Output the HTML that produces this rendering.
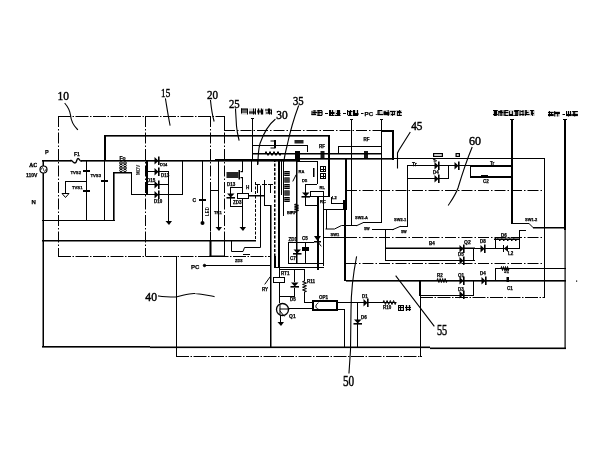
<!DOCTYPE html>
<html><head><meta charset="utf-8"><style>
html,body{margin:0;padding:0;background:#fff;width:600px;height:450px;overflow:hidden}
svg{display:block}
.ln{fill:none;stroke:#000;stroke-linecap:square}
.dd{stroke:#000;stroke-dasharray:11 2 1.5 2;fill:none}
.d2{stroke:#000;stroke-dasharray:13 1.5 1.5 1.5;fill:none}
.d3{stroke:#000;stroke-dasharray:3 1.5;fill:none}
text{fill:#000}
svg{filter:grayscale(1)}
.num{stroke:#000;stroke-width:0.45}
</style></head><body>
<svg width="600" height="450" viewBox="0 0 600 450" fill="#000">
<text class="num" x="57.5" y="100.3" font-size="12.8" font-family="Liberation Serif" textLength="11.5" lengthAdjust="spacingAndGlyphs">10</text>
<text class="num" x="161.1" y="96.5" font-size="12.8" font-family="Liberation Serif" textLength="9.099999999999994" lengthAdjust="spacingAndGlyphs">15</text>
<text class="num" x="206.9" y="98.6" font-size="13" font-family="Liberation Serif" textLength="11.099999999999994" lengthAdjust="spacingAndGlyphs">20</text>
<text class="num" x="229" y="107.5" font-size="12.8" font-family="Liberation Serif" textLength="10.699999999999989" lengthAdjust="spacingAndGlyphs">25</text>
<text class="num" x="276.3" y="119.1" font-size="12.2" font-family="Liberation Serif" textLength="11.399999999999977" lengthAdjust="spacingAndGlyphs">30</text>
<text class="num" x="293" y="104.5" font-size="12.2" font-family="Liberation Serif" textLength="10.699999999999989" lengthAdjust="spacingAndGlyphs">35</text>
<text class="num" x="411.2" y="129.8" font-size="13.5" font-family="Liberation Serif" textLength="11.300000000000011" lengthAdjust="spacingAndGlyphs">45</text>
<text class="num" x="469" y="144.8" font-size="12.6" font-family="Liberation Serif" textLength="12" lengthAdjust="spacingAndGlyphs">60</text>
<text class="num" x="145.3" y="300.5" font-size="12.8" font-family="Liberation Serif" textLength="11.699999999999989" lengthAdjust="spacingAndGlyphs">40</text>
<text class="num" x="436.9" y="334.5" font-size="14.5" font-family="Liberation Serif" textLength="10.300000000000011" lengthAdjust="spacingAndGlyphs">55</text>
<text class="num" x="343" y="385.6" font-size="14.5" font-family="Liberation Serif" textLength="11.199999999999989" lengthAdjust="spacingAndGlyphs">50</text>
<path class="ln" d="M65,103.5 C69,108 70,112 70.5,115 C71,121 73,125 77.5,129.5" stroke-width="1.1"/>
<path class="ln" d="M165.5,99 C167,108 168,115 170,125" stroke-width="1.1"/>
<path class="ln" d="M210.5,100.5 C211.5,110 212.5,116 214,121" stroke-width="1.1"/>
<path class="ln" d="M235.5,109 L236.5,126 C237,132 238,136 239,140" stroke-width="1.1"/>
<path class="ln" d="M275,119.5 C268,125 263,135 260,143.5 C258.5,149 258,155 258,164" stroke-width="1.1"/>
<path class="ln" d="M298.5,106 C294,118 290,132 287,146 C285.5,152 284.5,156 284,161" stroke-width="1.1"/>
<path class="ln" d="M410,132.5 L399,150 L397.5,153 L397.5,168" stroke-width="1.1"/>
<path class="ln" d="M472,147.5 C466,162 461,178 458,188 C455,196 451,201 448.5,205" stroke-width="1.1"/>
<path class="ln" d="M158.5,296 C165,297 170,297 176,297 C185,295 190,293 195,293.5 C203,294 208,295.5 214,296.5" stroke-width="1.1"/>
<path class="ln" d="M396,276 L434,326" stroke-width="1.1"/>
<path class="ln" d="M356.5,257 C353,275 351,290 351,310 L350.5,350 L349,373" stroke-width="1.1"/>
<g transform="translate(241,108.5)"><rect x="0" y="0" width="7" height="6" opacity="0.18"/><rect x="0" y="0" width="6" height="1"/><rect x="0" y="1" width="7" height="1"/><rect x="1" y="3" width="6" height="1"/><rect x="0" y="0" width="1" height="5"/><rect x="6" y="0" width="1" height="6"/></g>
<g transform="translate(249,108.5)"><rect x="0" y="0" width="7" height="6" opacity="0.18"/><rect x="0" y="3" width="6" height="1"/><rect x="0" y="4" width="7" height="1"/><rect x="4" y="0" width="1" height="6"/><rect x="6" y="0" width="1" height="6"/></g>
<g transform="translate(257,108.5)"><rect x="0" y="0" width="7" height="6" opacity="0.18"/><rect x="0" y="2" width="6" height="1"/><rect x="0" y="3" width="6" height="1"/><rect x="1" y="0" width="1" height="6"/><rect x="4" y="0" width="1" height="6"/><rect x="5" y="1" width="1" height="5"/></g>
<g transform="translate(265,108.5)"><rect x="0" y="0" width="7" height="6" opacity="0.18"/><rect x="0" y="1" width="6" height="1"/><rect x="1" y="4" width="6" height="1"/><rect x="3" y="0" width="1" height="5"/><rect x="4" y="0" width="1" height="6"/><rect x="6" y="1" width="1" height="5"/></g>
<g transform="translate(311.5,110)"><rect x="0" y="0" width="5.5" height="6" opacity="0.18"/><rect x="1" y="2" width="4.5" height="1"/><rect x="0" y="4" width="4.5" height="1"/><rect x="0" y="1" width="1" height="4"/><rect x="2" y="0" width="1" height="5"/><rect x="3" y="0" width="1" height="5"/></g>
<g transform="translate(317.5,110)"><rect x="0" y="0" width="5.5" height="6" opacity="0.18"/><rect x="0" y="0" width="4.5" height="1"/><rect x="0" y="2" width="4.5" height="1"/><rect x="0" y="5" width="4.5" height="1"/><rect x="0" y="0" width="1" height="6"/><rect x="1" y="0" width="1" height="5"/><rect x="4" y="1" width="1" height="4"/></g>
<rect x="325" y="113" width="3" height="1"/>
<g transform="translate(329.0,110)"><rect x="0" y="0" width="5.5" height="6" opacity="0.18"/><rect x="0" y="2" width="5.5" height="1"/><rect x="0" y="3" width="5.5" height="1"/><rect x="1" y="5" width="4.5" height="1"/><rect x="0" y="0" width="1" height="6"/><rect x="1" y="0" width="1" height="5"/><rect x="3" y="0" width="1" height="6"/></g>
<g transform="translate(335.0,110)"><rect x="0" y="0" width="5.5" height="6" opacity="0.18"/><rect x="1" y="3" width="4.5" height="1"/><rect x="0" y="5" width="5.5" height="1"/><rect x="2" y="0" width="1" height="6"/><rect x="3" y="0" width="1" height="6"/><rect x="4" y="0" width="1" height="6"/></g>
<rect x="343" y="113" width="3" height="1"/>
<g transform="translate(347.0,110)"><rect x="0" y="0" width="5.5" height="6" opacity="0.18"/><rect x="0" y="1" width="5.5" height="1"/><rect x="1" y="5" width="4.5" height="1"/><rect x="0" y="0" width="1" height="5"/><rect x="2" y="1" width="1" height="4"/><rect x="3" y="0" width="1" height="6"/></g>
<g transform="translate(353.0,110)"><rect x="0" y="0" width="5.5" height="6" opacity="0.18"/><rect x="0" y="3" width="5.5" height="1"/><rect x="0" y="4" width="5.5" height="1"/><rect x="0" y="5" width="4.5" height="1"/><rect x="0" y="0" width="1" height="5"/><rect x="1" y="0" width="1" height="6"/><rect x="4" y="0" width="1" height="6"/></g>
<rect x="361" y="113" width="2.5" height="1"/>
<text x="364.5" y="115.5" font-size="6.2" font-family="Liberation Sans" font-weight="bold" stroke="#000" stroke-width="0.25">PC</text>
<rect x="375.8" y="114" width="1.0" height="1"/>
<g transform="translate(377.5,110)"><rect x="0" y="0" width="5.7" height="6" opacity="0.18"/><rect x="0" y="0" width="4.7" height="1"/><rect x="0" y="4" width="5.7" height="1"/><rect x="0" y="1" width="1" height="4"/><rect x="1" y="0" width="1" height="5"/></g>
<g transform="translate(383.7,110)"><rect x="0" y="0" width="5.7" height="6" opacity="0.18"/><rect x="0" y="2" width="5.7" height="1"/><rect x="0" y="3" width="5.7" height="1"/><rect x="0" y="4" width="5.7" height="1"/><rect x="0" y="1" width="1" height="4"/><rect x="1" y="1" width="1" height="4"/><rect x="4" y="0" width="1" height="6"/></g>
<g transform="translate(389.9,110)"><rect x="0" y="0" width="5.7" height="6" opacity="0.18"/><rect x="0" y="1" width="5.7" height="1"/><rect x="1" y="4" width="3.7" height="1"/><rect x="2" y="1" width="1" height="5"/><rect x="4" y="1" width="1" height="4"/></g>
<g transform="translate(396.1,110)"><rect x="0" y="0" width="5.7" height="6" opacity="0.18"/><rect x="1" y="1" width="3.7" height="1"/><rect x="1" y="2" width="4.7" height="1"/><rect x="1" y="5" width="4.7" height="1"/><rect x="1" y="1" width="1" height="5"/><rect x="3" y="0" width="1" height="5"/></g>
<g transform="translate(493.0,110)"><rect x="0" y="0" width="4.8" height="6" opacity="0.18"/><rect x="0" y="0" width="4.8" height="1"/><rect x="0" y="4" width="4.8" height="1"/><rect x="1" y="5" width="2.8" height="1"/><rect x="1" y="0" width="1" height="6"/><rect x="2" y="0" width="1" height="6"/><rect x="3" y="0" width="1" height="5"/></g>
<g transform="translate(498.3,110)"><rect x="0" y="0" width="4.8" height="6" opacity="0.18"/><rect x="0" y="1" width="3.8" height="1"/><rect x="1" y="2" width="3.8" height="1"/><rect x="0" y="1" width="1" height="5"/><rect x="2" y="0" width="1" height="6"/><rect x="3" y="0" width="1" height="6"/></g>
<g transform="translate(503.6,110)"><rect x="0" y="0" width="4.8" height="6" opacity="0.18"/><rect x="1" y="0" width="3.8" height="1"/><rect x="0" y="2" width="4.8" height="1"/><rect x="1" y="5" width="3.8" height="1"/><rect x="0" y="0" width="1" height="6"/><rect x="1" y="1" width="1" height="4"/></g>
<g transform="translate(508.9,110)"><rect x="0" y="0" width="4.8" height="6" opacity="0.18"/><rect x="0" y="4" width="3.8" height="1"/><rect x="0" y="5" width="4.8" height="1"/><rect x="0" y="1" width="1" height="5"/><rect x="3" y="1" width="1" height="5"/></g>
<g transform="translate(514.2,110)"><rect x="0" y="0" width="4.8" height="6" opacity="0.18"/><rect x="0" y="0" width="4.8" height="1"/><rect x="0" y="1" width="3.8" height="1"/><rect x="0" y="5" width="3.8" height="1"/><rect x="1" y="0" width="1" height="6"/><rect x="2" y="1" width="1" height="4"/><rect x="3" y="0" width="1" height="5"/></g>
<g transform="translate(519.5,110)"><rect x="0" y="0" width="4.8" height="6" opacity="0.18"/><rect x="1" y="1" width="2.8" height="1"/><rect x="0" y="4" width="4.8" height="1"/><rect x="0" y="0" width="1" height="6"/><rect x="3" y="0" width="1" height="6"/></g>
<g transform="translate(524.8,110)"><rect x="0" y="0" width="4.8" height="6" opacity="0.18"/><rect x="1" y="2" width="2.8" height="1"/><rect x="0" y="4" width="4.8" height="1"/><rect x="0" y="0" width="1" height="6"/><rect x="1" y="0" width="1" height="5"/></g>
<g transform="translate(530.1,110)"><rect x="0" y="0" width="4.8" height="6" opacity="0.18"/><rect x="0" y="0" width="3.8" height="1"/><rect x="1" y="3" width="2.8" height="1"/><rect x="1" y="1" width="1" height="4"/><rect x="2" y="1" width="1" height="5"/></g>
<g transform="translate(548.0,111)"><rect x="0" y="0" width="5.7" height="5.5" opacity="0.18"/><rect x="0" y="1" width="5.7" height="1"/><rect x="0" y="3" width="5.7" height="1"/><rect x="0" y="4" width="5.7" height="1"/><rect x="1" y="0" width="1" height="5.5"/><rect x="3" y="1" width="1" height="3.5"/></g>
<g transform="translate(554.2,111)"><rect x="0" y="0" width="5.7" height="5.5" opacity="0.18"/><rect x="0" y="1" width="5.7" height="1"/><rect x="0" y="2" width="5.7" height="1"/><rect x="0" y="0" width="1" height="5.5"/><rect x="3" y="1" width="1" height="4.5"/></g>
<rect x="562.5" y="114" width="2.5" height="1"/>
<g transform="translate(566.0,111)"><rect x="0" y="0" width="5.7" height="5.5" opacity="0.18"/><rect x="0" y="3" width="5.7" height="1"/><rect x="0" y="4" width="5.7" height="1"/><rect x="0" y="0" width="1" height="4.5"/><rect x="2" y="0" width="1" height="5.5"/><rect x="4" y="0" width="1" height="4.5"/></g>
<g transform="translate(572.2,111)"><rect x="0" y="0" width="5.7" height="5.5" opacity="0.18"/><rect x="0" y="0" width="5.7" height="1"/><rect x="0" y="3" width="5.7" height="1"/><rect x="0" y="4" width="5.7" height="1"/><rect x="1" y="0" width="1" height="4.5"/><rect x="2" y="0" width="1" height="5.5"/></g>
<rect x="252" y="118" width="1" height="42"/>
<rect x="251" y="118" width="3" height="1"/>
<rect x="351" y="119" width="1" height="106"/>
<rect x="350" y="119" width="3" height="1"/>
<rect x="381" y="119" width="1" height="104"/>
<rect x="380" y="119" width="3" height="1"/>
<rect x="511" y="119" width="2" height="105"/>
<rect x="510" y="119" width="4" height="1"/>
<rect x="564" y="119" width="2" height="111"/>
<rect x="563" y="119" width="4" height="1"/>
<rect x="564.5" y="230" width="1.2" height="118"/>
<rect x="576" y="280.5" width="1.2" height="1.2"/>
<line class="d2" x1="58" y1="116.5" x2="225" y2="116.5" stroke-width="1"/>
<line class="dd" x1="58.5" y1="116" x2="58.5" y2="256" stroke-width="1"/>
<line class="dd" x1="145.5" y1="116" x2="145.5" y2="256" stroke-width="1"/>
<line class="dd" x1="210.5" y1="116" x2="210.5" y2="256" stroke-width="1"/>
<line class="dd" x1="224.5" y1="116" x2="224.5" y2="256" stroke-width="1"/>
<rect x="224" y="116" width="1" height="15"/>
<line class="dd" x1="224" y1="130.5" x2="382" y2="130.5" stroke-width="1"/>
<rect x="382" y="130" width="12" height="2"/>
<rect x="392" y="130" width="2" height="30"/>
<line class="d2" x1="58" y1="256.5" x2="271" y2="256.5" stroke-width="1"/>
<circle cx="43.5" cy="169.5" r="3.5" fill="none" stroke="#000" stroke-width="1.2"/>
<path class="ln" d="M41,169.5 C42,167 43,167 43.5,169.5 C44,172 45,172 46,169.5" stroke-width="0.8"/>
<text x="29.3" y="167.3" font-size="7" font-family="Liberation Serif" font-weight="bold" stroke="#000" stroke-width="0.4" textLength="8" lengthAdjust="spacingAndGlyphs">AC</text>
<text x="26" y="177" font-size="5" font-family="Liberation Sans" font-weight="bold" stroke="#000" stroke-width="0.25">110V</text>
<text x="45" y="154" font-size="5.5" font-family="Liberation Sans" font-weight="bold" stroke="#000" stroke-width="0.25">P</text>
<text x="31.5" y="204" font-size="6" font-family="Liberation Sans" font-weight="bold" stroke="#000" stroke-width="0.25">N</text>
<rect x="42.5" y="160" width="1.5" height="6"/>
<rect x="42.5" y="173" width="1.5" height="174"/>
<rect x="42" y="160" width="173" height="1.6"/>
<rect x="215" y="159" width="85" height="2.6"/>
<rect x="300" y="158" width="93" height="1.6"/>
<rect x="71" y="159" width="10" height="4" fill="#fff"/>
<path class="ln" d="M71,160.5 C72.5,160.5 73,163 75,163 C77,163 76.5,158.5 78,158.5 C79.5,158.5 79.5,161 81,161" stroke-width="1.4"/>
<text x="74" y="156" font-size="5" font-family="Liberation Sans" font-weight="bold" stroke="#000" stroke-width="0.25">F1</text>
<rect x="104" y="135" width="226" height="1.6"/>
<rect x="104" y="135" width="2" height="25"/>
<rect x="104" y="160" width="1" height="61"/>
<rect x="42" y="220" width="73" height="1"/>
<rect x="101.0" y="180" width="7" height="2"/>
<rect x="86" y="160" width="1" height="61"/>
<rect x="83.0" y="170" width="7" height="2"/>
<rect x="83.0" y="190" width="7" height="2"/>
<text x="70.5" y="174" font-size="4.2" font-family="Liberation Sans" font-weight="bold" stroke="#000" stroke-width="0.25">TVS2</text>
<text x="90.5" y="177" font-size="4.2" font-family="Liberation Sans" font-weight="bold" stroke="#000" stroke-width="0.25">TVS3</text>
<text x="72" y="189" font-size="4.2" font-family="Liberation Sans" font-weight="bold" stroke="#000" stroke-width="0.25">TVS1</text>
<rect x="65" y="181" width="22" height="1"/>
<rect x="65" y="181" width="1" height="12"/>
<path d="M62,193.5 L69,193.5 L65.5,197.5 Z" fill="none" stroke="#000" stroke-width="1"/>
<circle cx="121" cy="163.0" r="1.3" fill="none" stroke="#000" stroke-width="1"/>
<circle cx="125" cy="163.0" r="1.3" fill="none" stroke="#000" stroke-width="1"/>
<circle cx="121" cy="165.5" r="1.3" fill="none" stroke="#000" stroke-width="1"/>
<circle cx="125" cy="165.5" r="1.3" fill="none" stroke="#000" stroke-width="1"/>
<circle cx="121" cy="168.0" r="1.3" fill="none" stroke="#000" stroke-width="1"/>
<circle cx="125" cy="168.0" r="1.3" fill="none" stroke="#000" stroke-width="1"/>
<circle cx="121" cy="170.5" r="1.3" fill="none" stroke="#000" stroke-width="1"/>
<circle cx="125" cy="170.5" r="1.3" fill="none" stroke="#000" stroke-width="1"/>
<text x="119.5" y="159.5" font-size="5" font-family="Liberation Sans" font-weight="bold" stroke="#000" stroke-width="0.25">Fo</text>
<rect x="113" y="172" width="19" height="1.5"/>
<rect x="113" y="172" width="1.6" height="49"/>
<rect x="131" y="172" width="1" height="23"/>
<rect x="131" y="194" width="52" height="1"/>
<text transform="translate(140,175) rotate(-90)" font-size="4.5" font-family="Liberation Sans" font-weight="bold">MOV</text>
<rect x="146" y="160" width="2" height="35"/>
<rect x="146" y="171" width="23" height="1"/>
<rect x="146" y="184" width="23" height="1"/>
<rect x="168" y="171" width="1" height="51"/>
<path d="M165.5,221 L172.0,221 L169.0,225 Z" fill="#000"/>
<rect x="182" y="160" width="1" height="35"/>
<path d="M154.5,157.0 L154.5,164.5 L158.5,160.75 Z" fill="#000"/><rect x="158" y="156.5" width="1.6" height="8.5"/>
<path d="M154.5,168.0 L154.5,175.5 L158.5,171.75 Z" fill="#000"/><rect x="158" y="167.5" width="1.6" height="8.5"/>
<path d="M154.5,181.0 L154.5,188.5 L158.5,184.75 Z" fill="#000"/><rect x="158" y="180.5" width="1.6" height="8.5"/>
<path d="M154.5,191.0 L154.5,198.5 L158.5,194.75 Z" fill="#000"/><rect x="158" y="190.5" width="1.6" height="8.5"/>
<text x="161" y="177" font-size="4.5" font-family="Liberation Sans" font-weight="bold" stroke="#000" stroke-width="0.25">D13</text>
<text x="147" y="182" font-size="4.5" font-family="Liberation Sans" font-weight="bold" stroke="#000" stroke-width="0.25">D15</text>
<text x="154" y="202.5" font-size="4.5" font-family="Liberation Sans" font-weight="bold" stroke="#000" stroke-width="0.25">D10</text>
<text x="160" y="165.5" font-size="4" font-family="Liberation Sans" font-weight="bold" stroke="#000" stroke-width="0.25">D14</text>
<rect x="202" y="160" width="1" height="63"/>
<rect x="199.0" y="199" width="7" height="2"/>
<circle cx="202.5" cy="223" r="2"/>
<text x="192.5" y="201.5" font-size="5" font-family="Liberation Sans" font-weight="bold" stroke="#000" stroke-width="0.25">C</text>
<rect x="218" y="160" width="1" height="68"/>
<path d="M215.5,227 L222.0,227 L219.0,231 Z" fill="#000"/>
<rect x="210" y="191" width="1" height="40"/>
<rect x="210" y="190" width="8" height="1"/>
<text transform="translate(208.5,216) rotate(-90)" font-size="4.5" font-family="Liberation Sans" font-weight="bold">LED</text>
<text x="214" y="214" font-size="4.2" font-family="Liberation Sans" font-weight="bold" stroke="#000" stroke-width="0.25">TR1</text>
<rect x="242" y="159" width="1" height="13"/>
<rect x="242" y="177" width="1" height="16"/>
<rect x="240.5" y="171" width="2.5" height="1.2"/>
<rect x="240.5" y="177" width="2.5" height="1.2"/>
<rect x="238.5" y="170" width="1.5" height="9.5"/>
<rect x="226.5" y="172" width="12" height="6" fill="#000" opacity="0.85"/>
<text x="227" y="186" font-size="4.5" font-family="Liberation Sans" font-weight="bold" stroke="#000" stroke-width="0.25">D13</text>
<rect x="230" y="187" width="12" height="1"/>
<rect x="230" y="187" width="1" height="20"/>
<rect x="230" y="206" width="12" height="1"/>
<path d="M227.0,193.5 L234.5,193.5 L230.75,197.5 Z" fill="#000"/><rect x="226.5" y="197" width="8.5" height="1.6"/>
<rect x="237.5" y="193.5" width="11" height="5" fill="none" stroke="#000" stroke-width="1"/>
<rect x="242" y="199" width="1" height="29"/>
<path d="M239.5,227 L246.0,227 L243.0,231 Z" fill="#000"/>
<text x="233" y="204" font-size="4.5" font-family="Liberation Sans" font-weight="bold" stroke="#000" stroke-width="0.25">ZD3</text>
<rect x="249" y="195" width="16" height="1.5"/>
<rect x="251" y="159" width="1" height="33"/>
<text x="246" y="189" font-size="4.5" font-family="Liberation Sans" font-weight="bold" stroke="#000" stroke-width="0.25">H</text>
<line class="d3" x1="255.5" y1="182" x2="255.5" y2="240" stroke-width="1"/>
<rect x="42" y="240" width="214" height="1.5"/>
<path class="ln" d="M231.5,241 L231.5,251.5 L243,251.5 L244.5,247.5 L260.5,247.5 L260.5,186" stroke-width="1"/>
<rect x="243" y="254" width="7" height="1"/>
<rect x="209.5" y="240" width="2" height="17"/>
<rect x="209.5" y="255.5" width="15.5" height="1.5"/>
<rect x="224" y="240" width="1" height="17"/>
<text x="235" y="262" font-size="4" font-family="Liberation Sans" font-weight="bold" stroke="#000" stroke-width="0.25">ZD3</text>
<rect x="264" y="180" width="1" height="25"/>
<rect x="264" y="205" width="7" height="1"/>
<rect x="270" y="205" width="1.5" height="142"/>
<rect x="252" y="145" width="56" height="1"/>
<rect x="307" y="145" width="1" height="7"/>
<rect x="252" y="153" width="130" height="1.5"/>
<rect x="294.5" y="140" width="9" height="3.5" fill="#000" opacity="0.85"/>
<rect x="274" y="140" width="2" height="8"/>
<path class="ln" d="M271,141 L275,141 M275,148 L271,148" stroke-width="1"/>
<path d="M295,151 L300,151 L300,160 L295,160 Z" fill="#000"/>
<path class="ln" d="M265,153.5 L266.0,151.5 L268.0,155.5 L270.0,151.5 L272.0,155.5 L274.0,151.5 L276.0,155.5 L278.0,151.5 L280.0,155.5 L281,153.5" stroke-width="1"/>
<rect x="257" y="159" width="1" height="6"/>
<line class="d3" x1="274.75" y1="159" x2="274.75" y2="256" stroke-width="1.5"/>
<rect x="274" y="256" width="2" height="11"/>
<rect x="278" y="159" width="2" height="108"/>
<rect x="281" y="159" width="1" height="36"/>
<rect x="283" y="159" width="1" height="57"/>
<rect x="296" y="159" width="1.5" height="105"/>
<rect x="296" y="161" width="21" height="1"/>
<rect x="317" y="161" width="1" height="23"/>
<g transform="translate(284.5,171.0)"><rect width="5" height="1"/><rect y="4" width="5" height="1"/><rect width="1" height="5"/><rect x="4" width="1" height="5"/><rect x="2" width="1" height="5"/><rect y="2" width="5" height="1"/></g>
<g transform="translate(284.5,177.5)"><rect width="5" height="1"/><rect y="4" width="5" height="1"/><rect width="1" height="5"/><rect x="4" width="1" height="5"/><rect x="2" width="1" height="5"/><rect y="2" width="5" height="1"/></g>
<g transform="translate(284.5,184.0)"><rect width="5" height="1"/><rect y="4" width="5" height="1"/><rect width="1" height="5"/><rect x="4" width="1" height="5"/><rect x="2" width="1" height="5"/><rect y="2" width="5" height="1"/></g>
<g transform="translate(284.5,190.5)"><rect width="5" height="1"/><rect y="4" width="5" height="1"/><rect width="1" height="5"/><rect x="4" width="1" height="5"/><rect x="2" width="1" height="5"/><rect y="2" width="5" height="1"/></g>
<g transform="translate(284.5,197.0)"><rect width="5" height="1"/><rect y="4" width="5" height="1"/><rect width="1" height="5"/><rect x="4" width="1" height="5"/><rect x="2" width="1" height="5"/><rect y="2" width="5" height="1"/></g>
<g transform="translate(320,166)"><rect width="6" height="1"/><rect y="5" width="6" height="1"/><rect width="1" height="6"/><rect x="5" width="1" height="6"/><rect x="3" width="1" height="6"/><rect y="3" width="6" height="1"/></g>
<g transform="translate(320,173)"><rect width="6" height="1"/><rect y="5" width="6" height="1"/><rect width="1" height="6"/><rect x="5" width="1" height="6"/><rect x="3" width="1" height="6"/><rect y="3" width="6" height="1"/></g>
<text x="298.5" y="173" font-size="4" font-family="Liberation Sans" font-weight="bold" stroke="#000" stroke-width="0.25">RA</text>
<rect x="313" y="168" width="1.5" height="9"/>
<path class="ln" d="M296,175 L293,181" stroke-width="1"/>
<text x="302" y="182" font-size="4" font-family="Liberation Sans" font-weight="bold" stroke="#000" stroke-width="0.25">D5</text>
<rect x="255" y="184" width="5" height="1"/>
<rect x="257" y="184" width="1" height="9"/>
<rect x="262" y="184" width="5" height="1"/>
<rect x="264" y="184" width="1" height="9"/>
<rect x="268" y="184" width="5" height="1"/>
<rect x="270" y="184" width="1" height="9"/>
<rect x="305" y="184" width="12" height="1"/>
<rect x="305" y="184" width="1" height="22"/>
<rect x="305" y="205" width="12" height="1"/>
<path d="M302.0,192.5 L309.5,192.5 L305.75,196.5 Z" fill="#000"/><rect x="301.5" y="196" width="8.5" height="1.6"/>
<rect x="310.5" y="191.5" width="13" height="5" fill="none" stroke="#000" stroke-width="1"/>
<text x="319.5" y="189" font-size="4" font-family="Liberation Sans" font-weight="bold" stroke="#000" stroke-width="0.25">RL</text>
<rect x="317" y="197" width="2" height="73"/>
<rect x="328" y="135" width="2" height="62"/>
<rect x="323" y="196" width="6" height="1"/>
<rect x="323" y="197" width="1" height="69"/>
<rect x="323" y="209" width="22" height="1"/>
<rect x="326" y="209" width="1" height="20"/>
<path class="ln" d="M326,229 L334.5,229 L341.5,225.5 L345,225.5" stroke-width="1"/>
<text x="330.5" y="236" font-size="4" font-family="Liberation Sans" font-weight="bold" stroke="#000" stroke-width="0.25">SW1</text>
<rect x="323" y="237" width="23" height="1"/>
<rect x="331" y="203" width="13" height="1"/>
<rect x="331" y="197" width="1" height="6"/>
<text x="332" y="199" font-size="4" font-family="Liberation Sans" font-weight="bold" stroke="#000" stroke-width="0.25">L2</text>
<text x="320" y="203" font-size="4" font-family="Liberation Sans" font-weight="bold" stroke="#000" stroke-width="0.25">RC</text>
<rect x="343" y="200" width="4" height="10" fill="#000" opacity="1"/>
<path class="ln" d="M296.5,204 L294.5,204.4375 L298.5,205.3125 L294.5,206.1875 L298.5,207.0625 L294.5,207.9375 L298.5,208.8125 L294.5,209.6875 L298.5,210.5625 L296.5,211" stroke-width="1"/>
<text x="291" y="214" font-size="4" font-family="Liberation Sans" font-weight="bold" stroke="#000" stroke-width="0.25">RP</text>
<text x="287" y="214" font-size="4" font-family="Liberation Sans" font-weight="bold" stroke="#000" stroke-width="0.25">BP</text>
<rect x="288" y="242" width="26" height="1"/>
<rect x="288" y="242" width="1" height="22"/>
<rect x="288" y="263" width="36" height="1"/>
<rect x="274" y="267" width="50" height="1"/>
<rect x="305" y="242" width="1" height="22"/>
<rect x="302.0" y="247" width="7" height="2"/>
<rect x="302.0" y="249" width="7" height="2"/>
<path d="M314,236 L321,236 L317.5,241 Z" fill="#000"/><rect x="314" y="241" width="7" height="1.5"/>
<path class="ln" d="M318,242 L321,246" stroke-width="1"/>
<path d="M293.5,249.5 L301,249.5 L297.25,253.5 Z" fill="#000"/><rect x="293" y="253" width="8.5" height="1.6"/>
<text x="288.5" y="241" font-size="4.5" font-family="Liberation Sans" font-weight="bold" stroke="#000" stroke-width="0.25">ZD1</text>
<text x="302" y="240" font-size="4.5" font-family="Liberation Sans" font-weight="bold" stroke="#000" stroke-width="0.25">C5</text>
<text x="290" y="260" font-size="4.5" font-family="Liberation Sans" font-weight="bold" stroke="#000" stroke-width="0.25">C7</text>
<rect x="204" y="265" width="67" height="1"/>
<circle cx="204.5" cy="265.5" r="1.2" fill="#000" stroke="#000" stroke-width="1"/>
<text x="191" y="269" font-size="6" font-family="Liberation Sans" font-weight="bold" stroke="#000" stroke-width="0.25">PC</text>
<rect x="280" y="269" width="25" height="1"/>
<rect x="304" y="269" width="1" height="12"/>
<path class="ln" d="M304.5,281 L302.5,281.6875 L306.5,283.0625 L302.5,284.4375 L306.5,285.8125 L302.5,287.1875 L306.5,288.5625 L302.5,289.9375 L306.5,291.3125 L304.5,292" stroke-width="1"/>
<rect x="304" y="292" width="1" height="11"/>
<rect x="304" y="302" width="9" height="1"/>
<rect x="294" y="269" width="1" height="13"/>
<path d="M291.0,282.5 L298.5,282.5 L294.75,286.5 Z" fill="#000"/><rect x="290.5" y="286" width="8.5" height="1.6"/>
<rect x="294" y="288" width="1" height="9"/>
<rect x="280" y="296" width="15" height="1"/>
<rect x="273.5" y="277.5" width="11" height="5" fill="none" stroke="#000" stroke-width="1"/>
<rect x="279" y="267" width="1" height="10"/>
<rect x="279" y="283" width="1" height="20"/>
<path class="ln" d="M265,284 L270,277" stroke-width="1"/>
<text x="262" y="291" font-size="4.5" font-family="Liberation Sans" font-weight="bold" stroke="#000" stroke-width="0.25">RY</text>
<text x="281" y="275" font-size="4.5" font-family="Liberation Sans" font-weight="bold" stroke="#000" stroke-width="0.25">RT1</text>
<text x="307" y="283" font-size="4.5" font-family="Liberation Sans" font-weight="bold" stroke="#000" stroke-width="0.25">R11</text>
<text x="290" y="301" font-size="4.5" font-family="Liberation Sans" font-weight="bold" stroke="#000" stroke-width="0.25">D5</text>
<circle cx="282.5" cy="309.5" r="6" fill="none" stroke="#000" stroke-width="1.3"/>
<path class="ln" d="M280,305 L280,314 M280,309 L289,309 M280,311 L284,316" stroke-width="1"/>
<rect x="280" y="315" width="1" height="8"/>
<path d="M277.5,322 L284.0,322 L281.0,326 Z" fill="#000"/>
<text x="289" y="318" font-size="5" font-family="Liberation Sans" font-weight="bold" stroke="#000" stroke-width="0.25">Q1</text>
<rect x="289" y="308" width="24" height="1"/>
<rect x="313.0" y="301.0" width="24" height="9" fill="none" stroke="#000" stroke-width="2"/>
<path class="ln" d="M318,303 C315,305 315,308 318,309" stroke-width="1"/>
<text x="319" y="299" font-size="4.5" font-family="Liberation Sans" font-weight="bold" stroke="#000" stroke-width="0.25">OP1</text>
<rect x="337" y="302" width="59" height="1"/>
<path d="M363.5,299.0 L363.5,306.5 L367.5,302.75 Z" fill="#000"/><rect x="367" y="298.5" width="1.6" height="8.5"/>
<path class="ln" d="M383,302.5 L383.8125,300.5 L385.4375,304.5 L387.0625,300.5 L388.6875,304.5 L390.3125,300.5 L391.9375,304.5 L393.5625,300.5 L395.1875,304.5 L396,302.5" stroke-width="1"/>
<text x="362" y="298" font-size="4.5" font-family="Liberation Sans" font-weight="bold" stroke="#000" stroke-width="0.25">D1</text>
<text x="383" y="309" font-size="4.5" font-family="Liberation Sans" font-weight="bold" stroke="#000" stroke-width="0.25">R10</text>
<g transform="translate(398,305)"><rect x="0" y="0" width="6" height="6" opacity="0.18"/><rect x="0" y="0" width="6" height="1"/><rect x="1" y="2" width="5" height="1"/><rect x="0" y="5" width="6" height="1"/><rect x="0" y="0" width="1" height="6"/><rect x="2" y="0" width="1" height="5"/><rect x="5" y="0" width="1" height="5"/></g>
<g transform="translate(405,305)"><rect x="0" y="0" width="6" height="6" opacity="0.18"/><rect x="0" y="2" width="6" height="1"/><rect x="1" y="4" width="5" height="1"/><rect x="1" y="0" width="1" height="6"/><rect x="4" y="0" width="1" height="6"/></g>
<rect x="337" y="309" width="8" height="1"/>
<rect x="344" y="309" width="1" height="38"/>
<rect x="357" y="302" width="1" height="45"/>
<path d="M354.0,319.5 L361.5,319.5 L357.75,323.5 Z" fill="#000"/><rect x="353.5" y="323" width="8.5" height="1.6"/>
<text x="361" y="319" font-size="4.5" font-family="Liberation Sans" font-weight="bold" stroke="#000" stroke-width="0.25">D6</text>
<rect x="42" y="346" width="108" height="1.6"/>
<rect x="150" y="346.5" width="280" height="1.6"/>
<rect x="430" y="347.5" width="136" height="1.6"/>
<rect x="176" y="256" width="1" height="101"/>
<line class="d2" x1="176" y1="356.5" x2="422" y2="356.5" stroke-width="1"/>
<rect x="420" y="280" width="1" height="77"/>
<rect x="345" y="158" width="2" height="42"/>
<rect x="344" y="200" width="2" height="81"/>
<rect x="338" y="146" width="43" height="1"/>
<rect x="338" y="146" width="1" height="8"/>
<text x="363.5" y="141" font-size="4.5" font-family="Liberation Sans" font-weight="bold" stroke="#000" stroke-width="0.25">RF</text>
<rect x="364" y="151" width="4" height="7" fill="#000" opacity="0.9"/>
<text x="319" y="148" font-size="4.5" font-family="Liberation Sans" font-weight="bold" stroke="#000" stroke-width="0.25">RF</text>
<rect x="320.5" y="151" width="4" height="7" fill="#000" opacity="0.9"/>
<rect x="346" y="225" width="11" height="1"/>
<path class="ln" d="M357,225.5 L363.5,222.5" stroke-width="1"/>
<rect x="363" y="222" width="19" height="1"/>
<text x="355" y="219" font-size="4" font-family="Liberation Sans" font-weight="bold" stroke="#000" stroke-width="0.25">SW2-A</text>
<rect x="372" y="229" width="22" height="1"/>
<path class="ln" d="M393,229.5 L400,226.5" stroke-width="1"/>
<rect x="400" y="226" width="8" height="1"/>
<text x="394" y="221" font-size="4" font-family="Liberation Sans" font-weight="bold" stroke="#000" stroke-width="0.25">SW2-1</text>
<text x="364" y="230" font-size="3.5" font-family="Liberation Sans" font-weight="bold" stroke="#000" stroke-width="0.25">SW</text>
<text x="401" y="233" font-size="3.5" font-family="Liberation Sans" font-weight="bold" stroke="#000" stroke-width="0.25">SW</text>
<rect x="407" y="165" width="1" height="61"/>
<line class="dd" x1="346" y1="237.5" x2="545" y2="237.5" stroke-width="1"/>
<rect x="385" y="229" width="1" height="32"/>
<rect x="385" y="247.5" width="90" height="1.5"/>
<rect x="385" y="260" width="90" height="1"/>
<line class="dd" x1="346" y1="263.5" x2="545" y2="263.5" stroke-width="1"/>
<rect x="346" y="280" width="220" height="1.6"/>
<rect x="419" y="280" width="2" height="16"/>
<rect x="419" y="295" width="55" height="1"/>
<rect x="473" y="280" width="1" height="16"/>
<line class="d2" x1="420" y1="297.5" x2="545" y2="297.5" stroke-width="1"/>
<rect x="393" y="158" width="152" height="1"/>
<rect x="544" y="158" width="1" height="139"/>
<rect x="407" y="165" width="105" height="1"/>
<rect x="407" y="178" width="42" height="1"/>
<rect x="448" y="165" width="1" height="14"/>
<path d="M434.5,162.0 L434.5,169.5 L438.5,165.75 Z" fill="#000"/><rect x="438" y="161.5" width="1.6" height="8.5"/>
<path d="M434.5,175.0 L434.5,182.5 L438.5,178.75 Z" fill="#000"/><rect x="438" y="174.5" width="1.6" height="8.5"/>
<path d="M454.5,162.0 L454.5,169.5 L458.5,165.75 Z" fill="#000"/><rect x="458" y="161.5" width="1.6" height="8.5"/>
<rect x="433.6" y="153.6" width="8.8" height="2.8" fill="none" stroke="#000" stroke-width="1.2"/>
<rect x="456.1" y="153.6" width="3.3" height="2.8" fill="none" stroke="#000" stroke-width="1.2"/>
<text x="412" y="166" font-size="5" font-family="Liberation Sans" font-weight="bold" stroke="#000" stroke-width="0.25">Tr</text>
<text x="433" y="174" font-size="4.5" font-family="Liberation Sans" font-weight="bold" stroke="#000" stroke-width="0.25">D4</text>
<text x="433" y="162" font-size="4" font-family="Liberation Sans" font-weight="bold" stroke="#000" stroke-width="0.25">Tr</text>
<line class="dd" x1="346" y1="190.5" x2="545" y2="190.5" stroke-width="1"/>
<rect x="470" y="166" width="42" height="1"/>
<rect x="470" y="176" width="42" height="2"/>
<rect x="470" y="166" width="1" height="11"/>
<rect x="481.0" y="175" width="7" height="2"/>
<text x="490" y="165" font-size="4.5" font-family="Liberation Sans" font-weight="bold" stroke="#000" stroke-width="0.25">Tr</text>
<text x="483" y="183" font-size="4.5" font-family="Liberation Sans" font-weight="bold" stroke="#000" stroke-width="0.25">C2</text>
<rect x="512" y="223" width="17" height="1"/>
<path class="ln" d="M529,223.5 L533,227.5" stroke-width="1"/>
<rect x="533" y="227" width="33" height="1.5"/>
<text x="525" y="221" font-size="4" font-family="Liberation Sans" font-weight="bold" stroke="#000" stroke-width="0.25">SW1-2</text>
<rect x="494" y="238.5" width="26" height="1.5"/>
<rect x="497" y="237.3" width="1.5" height="1.2"/>
<rect x="499" y="240" width="1.5" height="1"/>
<rect x="501" y="237.3" width="1.5" height="1.2"/>
<rect x="503" y="240" width="1.5" height="1"/>
<rect x="505" y="237.3" width="1.5" height="1.2"/>
<rect x="507" y="240" width="1.5" height="1"/>
<rect x="509" y="237.3" width="1.5" height="1.2"/>
<rect x="511" y="240" width="1.5" height="1"/>
<rect x="513" y="237.3" width="1.5" height="1.2"/>
<rect x="515" y="240" width="1.5" height="1"/>
<rect x="495" y="238" width="1" height="10"/>
<rect x="519" y="230" width="1" height="18"/>
<rect x="519" y="230" width="7" height="1"/>
<rect x="407" y="248" width="113" height="1"/>
<path d="M480.5,245.0 L480.5,252.5 L484.5,248.75 Z" fill="#000"/><rect x="484" y="244.5" width="1.6" height="8.5"/>
<path d="M508,245 L508,252 L504,248.5 Z" fill="#000"/><rect x="503" y="245" width="1" height="7"/>
<rect x="473" y="248" width="1" height="13"/>
<path d="M459.5,245.0 L459.5,252.5 L463.5,248.75 Z" fill="#000"/><rect x="463" y="244.5" width="1.6" height="8.5"/>
<path d="M459.5,257.0 L459.5,264.5 L463.5,260.75 Z" fill="#000"/><rect x="463" y="256.5" width="1.6" height="8.5"/>
<text x="429" y="245" font-size="4.5" font-family="Liberation Sans" font-weight="bold" stroke="#000" stroke-width="0.25">B4</text>
<text x="464" y="244" font-size="5" font-family="Liberation Sans" font-weight="bold" stroke="#000" stroke-width="0.25">Q2</text>
<text x="480" y="243" font-size="4.5" font-family="Liberation Sans" font-weight="bold" stroke="#000" stroke-width="0.25">D8</text>
<text x="501" y="236.5" font-size="4.5" font-family="Liberation Sans" font-weight="bold" stroke="#000" stroke-width="0.25">D6</text>
<text x="508" y="255" font-size="4.5" font-family="Liberation Sans" font-weight="bold" stroke="#000" stroke-width="0.25">L2</text>
<text x="458" y="256" font-size="4.5" font-family="Liberation Sans" font-weight="bold" stroke="#000" stroke-width="0.25">D5</text>
<rect x="495" y="268" width="71" height="1"/>
<path class="ln" d="M501,268.5 L501.5,266.5 L502.5,270.5 L503.5,266.5 L504.5,270.5 L505.5,266.5 L506.5,270.5 L507.5,266.5 L508.5,270.5 L509,268.5" stroke-width="1"/>
<rect x="495" y="268" width="1" height="12"/>
<rect x="506.5" y="277" width="2.5" height="5" fill="#000" opacity="1"/>
<path class="ln" d="M437,280.5 L437.625,278.5 L438.875,282.5 L440.125,278.5 L441.375,282.5 L442.625,278.5 L443.875,282.5 L445.125,278.5 L446.375,282.5 L447,280.5" stroke-width="1"/>
<path d="M459.5,277.0 L459.5,284.5 L463.5,280.75 Z" fill="#000"/><rect x="463" y="276.5" width="1.6" height="8.5"/>
<path d="M481.5,277.0 L481.5,284.5 L485.5,280.75 Z" fill="#000"/><rect x="485" y="276.5" width="1.6" height="8.5"/>
<path d="M459.5,291.0 L459.5,298.5 L463.5,294.75 Z" fill="#000"/><rect x="463" y="290.5" width="1.6" height="8.5"/>
<text x="437" y="277" font-size="4.5" font-family="Liberation Sans" font-weight="bold" stroke="#000" stroke-width="0.25">R2</text>
<text x="458" y="277" font-size="4.5" font-family="Liberation Sans" font-weight="bold" stroke="#000" stroke-width="0.25">Q1</text>
<text x="480" y="275" font-size="4.5" font-family="Liberation Sans" font-weight="bold" stroke="#000" stroke-width="0.25">D4</text>
<text x="507" y="290" font-size="4.5" font-family="Liberation Sans" font-weight="bold" stroke="#000" stroke-width="0.25">C1</text>
<text x="504" y="273" font-size="4.5" font-family="Liberation Sans" font-weight="bold" stroke="#000" stroke-width="0.25">J1</text>
<text x="458" y="291" font-size="4.5" font-family="Liberation Sans" font-weight="bold" stroke="#000" stroke-width="0.25">D3</text>
</svg>
</body></html>
